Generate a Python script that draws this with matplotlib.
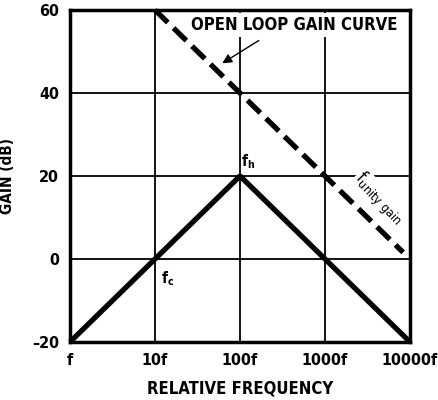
import matplotlib.pyplot as plt
import numpy as np

plt.rcParams['font.family'] = ['DejaVu Sans']
plt.rcParams['font.stretch'] = 'condensed'
plt.rcParams['font.weight'] = 'bold'
plt.rcParams['axes.labelweight'] = 'bold'

# data
freq_ticks = [1, 10, 100, 1000, 10000]
freq_labels = ['f', '10f', '100f', '1000f', '10000f']
gain_ticks = [-20, 0, 20, 40, 60]

open_loop_freq = [10, 8300]
open_loop_gain = [60, 1.6]

closed_loop_freq = [1, 100, 10000]
closed_loop_gain = [-20, 20, -20]

fig = plt.figure(figsize=(4.38, 4.0), dpi=100)
ax = fig.add_axes([70/438, 58/400, 340/438, 332/400])

ax.plot(closed_loop_freq, closed_loop_gain, color='black', lw=3.8,
        solid_capstyle='butt', clip_on=False, zorder=3)
ax.plot(open_loop_freq, open_loop_gain, color='black', lw=3.8,
        dashes=(3.4, 1.5), clip_on=False, zorder=3)

ax.set_xscale('log')
ax.set_xlim(1, 10000)
ax.set_ylim(-20, 60)
ax.set_xticks(freq_ticks)
ax.set_xticklabels(freq_labels)
ax.minorticks_off()
ax.set_yticks(gain_ticks)
ax.set_yticklabels(['\u201320', '0', '20', '40', '60'])
ax.tick_params(length=0, labelsize=11.5, pad=8)
ax.grid(True, color='black', lw=1.3)
for s in ax.spines.values():
    s.set_linewidth(2.5)

ax.set_xlabel('RELATIVE FREQUENCY', fontsize=12, labelpad=8)
ax.set_ylabel('GAIN (dB)', fontsize=11, labelpad=12)

ax.text(432, 56.4, 'OPEN LOOP GAIN CURVE', fontsize=12, ha='center', va='center',
        zorder=2, bbox=dict(facecolor='white', edgecolor='none', pad=2))
ax.annotate('', xy=(58, 46.8), xytext=(177, 53),
            arrowprops=dict(arrowstyle='-|>', color='black', lw=1, mutation_scale=14))
ax.text(124, 23.5, r'$\mathregular{f_h}$', fontsize=11, ha='center', va='center')
ax.text(14, -4.8, r'$\mathregular{f_c}$', fontsize=11, ha='center', va='center')
ax.text(4300, 14.6, r'$\mathregular{f_{unity\ gain}}$', fontsize=13, ha='center',
        va='center', rotation=-46, fontweight='normal', zorder=2,
        bbox=dict(facecolor='white', edgecolor='none', pad=0.3))

fig.savefig('out.png', dpi=100)
